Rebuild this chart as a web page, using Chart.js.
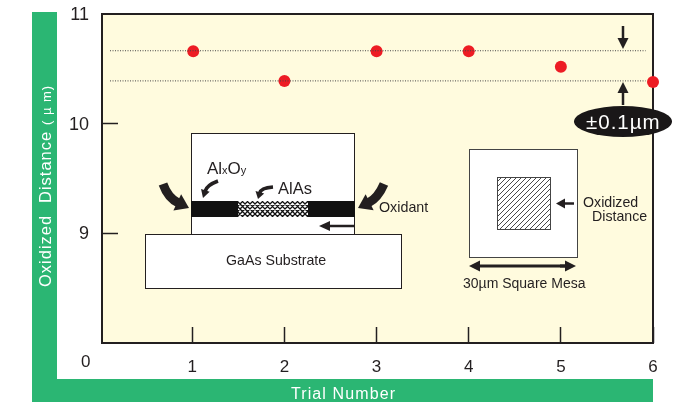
<!DOCTYPE html>
<html>
<head>
<meta charset="utf-8">
<title>Oxidized Distance</title>
<script src="https://cdn.jsdelivr.net/npm/chart.js@4"></script>
<style>
body { margin: 0; background: #fff; }
#c { display: block; }
</style>
</head>
<body>
<canvas id="c" width="682" height="402"></canvas>
<script>
const trials = [1.01, 2, 3, 4, 5, 6];
const distances = [10.66, 10.39, 10.66, 10.66, 10.52, 10.38];
const upperLimit = [10.665, 10.665];
const lowerLimit = [10.39, 10.39];
const limitSpan = [0.107, 5.92];
const xTicks = [1, 2, 3, 4, 5, 6];
const yTicks = [8, 9, 10, 11];

const GREEN = "#2bb673";
const CREAM = "#fffbde";
const INK = "#231f20";
const FONT = '"Liberation Sans", Arial, sans-serif';

function text(ctx, str, x, y, size, color, spacing) {
    ctx.font = size + "px " + FONT;
    ctx.fillStyle = color || INK;
    ctx.letterSpacing = (spacing || 0) + "px";
    ctx.textAlign = "left";
    ctx.textBaseline = "alphabetic";
    ctx.fillText(str, x, y);
    const w = ctx.measureText(str).width;
    ctx.letterSpacing = "0px";
    return x + w;
}

function straightArrow(ctx, x0, y0, x1, y1, width, headLen, headWid) {
    const a = Math.atan2(y1 - y0, x1 - x0);
    ctx.strokeStyle = INK;
    ctx.lineWidth = width;
    ctx.lineCap = "butt";
    ctx.beginPath();
    ctx.moveTo(x0, y0);
    ctx.lineTo(x1 - Math.cos(a) * headLen * 0.8, y1 - Math.sin(a) * headLen * 0.8);
    ctx.stroke();
    head(ctx, x1, y1, a, headLen, headWid);
}

function head(ctx, x, y, a, len, wid) {
    ctx.fillStyle = INK;
    ctx.save();
    ctx.translate(x, y);
    ctx.rotate(a);
    ctx.beginPath();
    ctx.moveTo(0, 0);
    ctx.lineTo(-len, -wid / 2);
    ctx.lineTo(-len, wid / 2);
    ctx.closePath();
    ctx.fill();
    ctx.restore();
}

function curvedArrow(ctx, x0, y0, cx, cy, x1, y1, width, headLen, headWid) {
    const a = Math.atan2(y1 - cy, x1 - cx);
    const ex = x1 - Math.cos(a) * headLen * 0.9;
    const ey = y1 - Math.sin(a) * headLen * 0.9;
    ctx.strokeStyle = INK;
    ctx.lineWidth = width;
    ctx.lineCap = "butt";
    ctx.beginPath();
    ctx.moveTo(x0, y0);
    ctx.quadraticCurveTo(cx, cy, ex, ey);
    ctx.stroke();
    head(ctx, x1, y1, a, headLen, headWid);
}

function hatch(ctx, x, y, w, h, step, both, color, lineWidth) {
    ctx.save();
    ctx.beginPath();
    ctx.rect(x, y, w, h);
    ctx.clip();
    ctx.strokeStyle = color;
    ctx.lineWidth = lineWidth;
    ctx.beginPath();
    for (let d = -h; d < w + h; d += step) {
        ctx.moveTo(x + d, y + h);
        ctx.lineTo(x + d + h, y);
        if (both) {
            ctx.moveTo(x + d, y);
            ctx.lineTo(x + d + h, y + h);
        }
    }
    ctx.stroke();
    ctx.restore();
}

// green bands, plot background
const backdrop = {
    id: "backdrop",
    beforeDraw(chart) {
        const ctx = chart.ctx;
        const a = chart.chartArea;
        ctx.save();
        ctx.fillStyle = GREEN;
        ctx.fillRect(32, 12, 25, 390);
        ctx.fillRect(32, 379, a.right - 32, 23);
        ctx.fillStyle = CREAM;
        ctx.fillRect(a.left, a.top, a.width, a.height);
        ctx.restore();
    },
    beforeDatasetsDraw(chart) {
        const ctx = chart.ctx;
        const a = chart.chartArea;
        ctx.save();
        drawMesaSection(ctx);
        drawTopView(ctx);
        ctx.strokeStyle = INK;
        ctx.lineWidth = 2;
        ctx.strokeRect(a.left, a.top, a.width, a.height);
        ctx.restore();
    },
    afterDatasetsDraw(chart) {
        const ctx = chart.ctx;
        ctx.save();
        drawTolerance(ctx);
        drawAxisText(ctx);
        ctx.restore();
    }
};

function drawMesaSection(ctx) {
    ctx.fillStyle = "#fff";
    ctx.strokeStyle = INK;
    ctx.lineWidth = 1;
    ctx.fillRect(191.5, 133.5, 163, 101);
    ctx.strokeRect(191.5, 133.5, 163, 101);
    ctx.fillRect(145.5, 234.5, 256, 54);
    ctx.strokeRect(145.5, 234.5, 256, 54);

    ctx.fillStyle = "#111";
    ctx.fillRect(191, 201, 164, 16);
    ctx.fillStyle = "#fff";
    ctx.fillRect(238, 201, 70, 16);
    hatch(ctx, 238, 201, 70, 16, 5, true, "#111", 1.3);

    curvedArrow(ctx, 163, 184, 168, 198, 189, 208, 9, 13, 18);
    curvedArrow(ctx, 384, 184, 378, 198, 358, 208, 9, 13, 18);
    curvedArrow(ctx, 218, 181, 207, 185, 203, 198, 3.5, 8, 9);
    curvedArrow(ctx, 273, 187, 261, 188, 258, 199, 3.5, 7, 9);
    straightArrow(ctx, 354, 226, 319, 226, 2.5, 11, 10);

    let x = text(ctx, "Al", 207, 174, 17);
    x = text(ctx, "x", x, 174, 11);
    x = text(ctx, "O", x, 174, 17);
    text(ctx, "y", x, 174, 11);
    text(ctx, "AlAs", 278, 194, 16.5);
    text(ctx, "Oxidant", 379, 212, 14.3);
    text(ctx, "GaAs Substrate", 226, 265, 14.2);
}

function drawTopView(ctx) {
    ctx.fillStyle = "#fff";
    ctx.strokeStyle = "#444";
    ctx.lineWidth = 1;
    ctx.fillRect(469.5, 149.5, 108, 108);
    ctx.strokeRect(469.5, 149.5, 108, 108);
    hatch(ctx, 497, 177, 53, 53, 5, false, "#333", 0.9);
    ctx.strokeRect(497.5, 177.5, 53, 52);

    straightArrow(ctx, 574, 203.5, 556, 203.5, 2.5, 9, 10);
    text(ctx, "Oxidized", 583, 207, 14.2);
    text(ctx, "Distance", 592, 221, 14.2);

    straightArrow(ctx, 480, 266, 469, 266, 3, 11, 11);
    straightArrow(ctx, 560, 266, 576, 266, 3, 11, 11);
    ctx.strokeStyle = INK;
    ctx.lineWidth = 3;
    ctx.beginPath();
    ctx.moveTo(478, 266);
    ctx.lineTo(567, 266);
    ctx.stroke();
    text(ctx, "30\u00b5m Square Mesa", 463, 288, 14);
}

function drawTolerance(ctx) {
    straightArrow(ctx, 623, 26, 623, 49, 2.5, 11, 11);
    straightArrow(ctx, 623, 105, 623, 82, 2.5, 11, 11);
    ctx.fillStyle = "#1a1718";
    ctx.beginPath();
    ctx.ellipse(623, 121.5, 49, 15.5, 0, 0, Math.PI * 2);
    ctx.fill();
    text(ctx, "\u00b10.1\u00b5m", 586, 128.5, 20.5, "#fff", 1);
}

function drawAxisText(ctx) {
    text(ctx, "0", 81, 367, 17);
    text(ctx, "Trial Number", 291, 399, 16, "#fff", 1.1);
    ctx.save();
    ctx.translate(51, 287);
    ctx.rotate(-Math.PI / 2);
    text(ctx, "Oxidized", 0, 0, 16.5, "#fff", 1);
    text(ctx, "Distance", 84, 0, 16.5, "#fff", 1);
    text(ctx, "( \u00b5 m)", 162, 0, 13, "#fff", 1);
    ctx.restore();
}

new Chart(document.getElementById("c"), {
    type: "scatter",
    data: {
        datasets: [
            {
                data: limitSpan.map((x, i) => ({ x: x, y: upperLimit[i] })),
                showLine: true,
                borderColor: "#444",
                borderWidth: 1,
                borderDash: [1, 1.5],
                pointRadius: 0
            },
            {
                data: limitSpan.map((x, i) => ({ x: x, y: lowerLimit[i] })),
                showLine: true,
                borderColor: "#444",
                borderWidth: 1,
                borderDash: [1, 1.5],
                pointRadius: 0
            },
            {
                data: trials.map((x, i) => ({ x: x, y: distances[i] })),
                pointRadius: 6,
                pointBackgroundColor: "#ed1c24",
                pointBorderWidth: 0,
                clip: false
            }
        ]
    },
    options: {
        responsive: false,
        animation: false,
        events: [],
        layout: { padding: { top: 14, right: 29 } },
        plugins: { legend: { display: false }, tooltip: { enabled: false } },
        scales: {
            x: {
                type: "linear",
                min: 0.02,
                max: 6,
                afterBuildTicks: s => { s.ticks = xTicks.map(v => ({ value: v })); },
                afterFit: s => { s.height = 59; s.paddingLeft = 0; s.paddingRight = 0; },
                border: { display: false },
                grid: {
                    drawOnChartArea: false,
                    tickLength: -16,
                    tickWidth: 1.5,
                    tickColor: INK
                },
                ticks: {
                    padding: 30,
                    maxRotation: 0,
                    color: INK,
                    font: { family: FONT, size: 17 },
                    callback: v => String(v)
                }
            },
            y: {
                min: 8,
                max: 11,
                afterBuildTicks: s => { s.ticks = yTicks.map(v => ({ value: v })); },
                afterFit: s => { s.width = 102; s.paddingTop = 0; s.paddingBottom = 0; },
                border: { display: false },
                grid: {
                    drawOnChartArea: false,
                    tickLength: -16,
                    tickWidth: 1.5,
                    tickColor: c => (c.tick.value === 9 || c.tick.value === 10) ? INK : "rgba(0,0,0,0)"
                },
                ticks: {
                    padding: 29,
                    labelOffset: 1,
                    color: INK,
                    font: { family: FONT, size: 18 },
                    callback: v => (v === 8 ? "" : String(v))
                }
            }
        }
    },
    plugins: [backdrop]
});
</script>
</body>
</html>
